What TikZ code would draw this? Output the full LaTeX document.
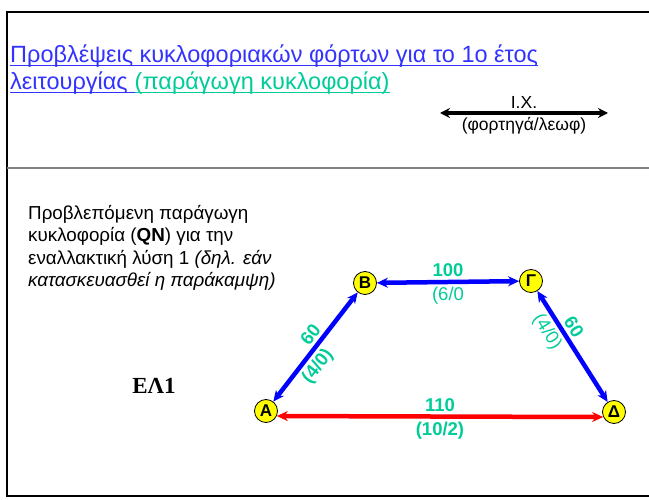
\documentclass[tikz,border=0pt]{standalone}
\usepackage{fontspec}
\setmainfont{Liberation Sans}
\newfontfamily\timesfont{Liberation Serif}
\usetikzlibrary{arrows.meta, positioning}
\definecolor{linkblue}{RGB}{51,51,255}
\definecolor{flowgreen}{RGB}{0,204,153}
\definecolor{nodeyellow}{RGB}{255,255,0}

\begin{document}
\begin{tikzpicture}[x=1pt, y=-1pt,
  stn/.style={circle, draw, thick, fill=nodeyellow, minimum size=23pt,
              inner sep=0pt, font=\fontsize{17}{17}\selectfont\bfseries},
  link/.style={{Stealth[length=11pt,width=10pt]}-{Stealth[length=11pt,width=10pt]},
               line width=4.5pt},
  lbl/.style={font=\fontsize{18.5}{18.5}\selectfont\bfseries, text=flowgreen, inner sep=3pt},
  lbln/.style={font=\fontsize{18.5}{18.5}\selectfont, text=flowgreen, inner sep=3pt},
  ttl/.style={font=\fontsize{23.5}{23.5}\selectfont, inner sep=0pt, anchor=base west},
  uline/.style={line width=1.3pt},
  leg/.style={font=\fontsize{17.5}{17.5}\selectfont, inner sep=2pt}
]
  \useasboundingbox (0,0) rectangle (649,500);

  % frame
  \draw[line width=2.5pt] (649,12) -- (7,12) -- (7,496) -- (649,496);
  \draw[line width=2pt, gray] (7,168) -- (649,168);

  % title
  \node[ttl, text=linkblue] (t1) at (10,63) {Προβλέψεις κυκλοφοριακών φόρτων για το 1ο έτος};
  \node[ttl, text=linkblue] (t2) at (10,90) {λειτουργίας\kern0.28em};
  \node[ttl, text=flowgreen] (t3) at (t2.base east) {(παράγωγη κυκλοφορία)};
  \draw[uline, linkblue] ([yshift=-2.5pt]t1.base west) -- ([yshift=-2.5pt]t1.base east);
  \draw[uline, linkblue] ([yshift=-2.5pt]t2.base west) -- ([yshift=-2.5pt]t2.base east);
  \draw[uline, flowgreen] ([yshift=-2.5pt]t3.base west) -- ([yshift=-2.5pt]t3.base east);

  % I.X. legend
  \coordinate (ixl) at (440,113);
  \coordinate (ixr) at (608,113);
  \draw[{Stealth[length=10pt,width=10pt]}-{Stealth[length=10pt,width=10pt]}, line width=4pt]
    (ixl) -- (ixr)
    node[midway, above, leg] {I.X.}
    node[midway, below, leg] {(φορτηγά/λεωφ)};

  % description
  \node[anchor=north west, align=left, inner sep=0pt,
        font=\fontsize{18.8}{22.5}\selectfont] (desc) at (28,205)
    {Προβλεπόμενη παράγωγη\\
     κυκλοφορία (\textbf{QN}) για την\\
     εναλλακτική λύση 1 \textit{(δηλ. εάν}\\
     \textit{κατασκευασθεί η παράκαμψη)}};

  \node[font=\timesfont\fontsize{23}{23}\selectfont\bfseries] (alt) at (154,386) {ΕΛ1};

  % network
  \node[stn] (A) at (266,411) {Α};
  \node[stn] (B) at (365,283) {Β};
  \node[stn] (G) at (531,281) {Γ};
  \node[stn] (D) at (614,412) {Δ};

  \draw[link, blue] (A) -- (B)
    node[pos=0.55, above, sloped, lbl] {60}
    node[pos=0.4, below, sloped, lbl] {(4/0)};
  \draw[link, blue] (B) -- (G)
    node[midway, above, lbl] {100}
    node[midway, below, lbln] {(6/0};
  \draw[link, blue] (G) -- (D)
    node[pos=0.38, above, sloped, lbl] {60}
    node[pos=0.3, below, sloped, lbln] {(4/0)};
  \draw[link, red] (A.-25) -- (D.205)
    node[midway, above, lbl] {110}
    node[midway, below, lbl] {(10/2)};
\end{tikzpicture}
\end{document}
